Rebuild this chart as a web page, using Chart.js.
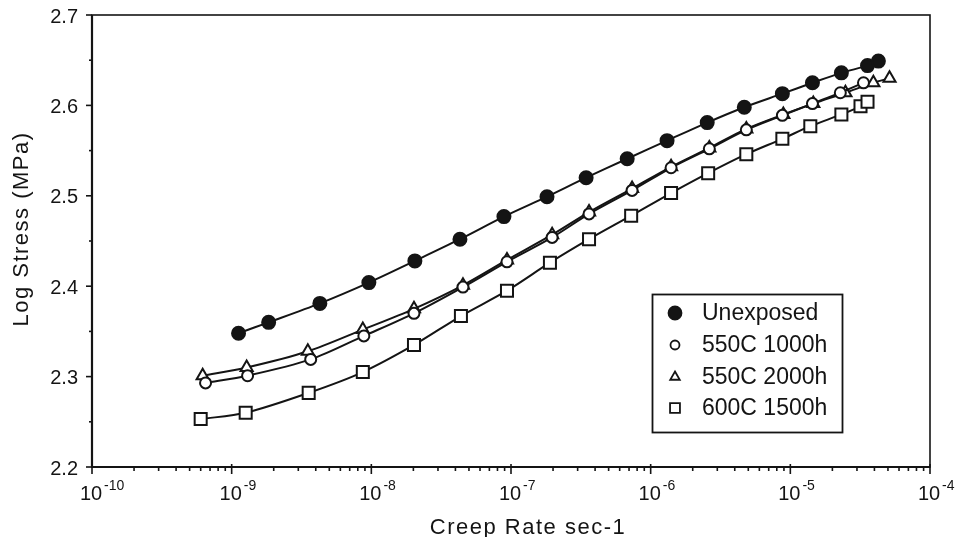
<!DOCTYPE html>
<html>
<head>
<meta charset="utf-8">
<script src="https://cdn.jsdelivr.net/npm/chart.js@4.4.0/dist/chart.umd.min.js"></script>
<style>
    html, body { margin: 0; padding: 0; background: #fff; }
    #wrap { width: 957px; height: 537px; }
</style>
</head>
<body>
<div id="wrap"><canvas id="creepChart"></canvas></div>
<script>
// series names (legend order)
const seriesNames = ['Unexposed', '550C 1000h', '550C 2000h', '600C 1500h'];

// creep rate (1/s) and log stress (MPa)
const unexposedRate = [1.12e-9, 1.84e-9, 4.28e-9, 9.6e-9, 2.05e-8, 4.31e-8, 8.9e-8, 1.81e-7, 3.45e-7, 6.79e-7, 1.31e-6, 2.54e-6, 4.68e-6, 8.77e-6, 1.44e-5, 2.32e-5, 3.57e-5, 4.27e-5];
const unexposedStress = [2.348, 2.360, 2.381, 2.404, 2.428, 2.452, 2.477, 2.499, 2.520, 2.541, 2.561, 2.581, 2.598, 2.613, 2.625, 2.636, 2.644, 2.649];

const c550h1000Rate = [6.5e-10, 1.30e-9, 3.68e-9, 8.84e-9, 2.02e-8, 4.53e-8, 9.36e-8, 1.97e-7, 3.62e-7, 7.36e-7, 1.40e-6, 2.63e-6, 4.84e-6, 8.77e-6, 1.44e-5, 2.28e-5, 3.34e-5];
const c550h1000Stress = [2.293, 2.301, 2.319, 2.345, 2.370, 2.399, 2.427, 2.454, 2.480, 2.506, 2.531, 2.552, 2.573, 2.589, 2.602, 2.614, 2.625];

const c550h2000Rate = [6.2e-10, 1.28e-9, 3.51e-9, 8.69e-9, 2.02e-8, 4.53e-8, 9.36e-8, 1.97e-7, 3.62e-7, 7.36e-7, 1.40e-6, 2.63e-6, 4.84e-6, 8.91e-6, 1.46e-5, 2.48e-5, 3.93e-5, 5.13e-5];
const c550h2000Stress = [2.301, 2.310, 2.328, 2.352, 2.375, 2.401, 2.429, 2.457, 2.482, 2.508, 2.532, 2.553, 2.574, 2.590, 2.602, 2.614, 2.625, 2.630];

const c600h1500Rate = [6.0e-10, 1.26e-9, 3.56e-9, 8.69e-9, 2.02e-8, 4.38e-8, 9.36e-8, 1.90e-7, 3.62e-7, 7.25e-7, 1.40e-6, 2.58e-6, 4.84e-6, 8.77e-6, 1.39e-5, 2.32e-5, 3.18e-5, 3.57e-5];
const c600h1500Stress = [2.253, 2.260, 2.282, 2.305, 2.335, 2.367, 2.395, 2.426, 2.452, 2.478, 2.503, 2.525, 2.546, 2.563, 2.577, 2.590, 2.599, 2.604];

// axis ticks
const xTickExponents = [-10, -9, -8, -7, -6, -5, -4];
const yTickValues = [2.2, 2.3, 2.4, 2.5, 2.6, 2.7];
const yMinorValues = [2.25, 2.35, 2.45, 2.55, 2.65];

const xTitle = 'Creep Rate sec-1';
const yTitle = 'Log Stress (MPa)';

const INK = '#141414';
const FONT = '"Liberation Sans", Arial, sans-serif';

function zip(xs, ys) {
    return xs.map(function (x, i) { return { x: x, y: ys[i] }; });
}

// ==========================================
// custom drawing: frame, ticks, labels, legend
// ==========================================
const paperPlugin = {
    id: 'paper',
    afterDraw: function (chart) {
        const ctx = chart.ctx;
        const area = chart.chartArea;
        const xs = chart.scales.x;
        const ys = chart.scales.y;
        ctx.save();
        ctx.strokeStyle = INK;
        ctx.fillStyle = INK;

        // frame
        ctx.lineWidth = 1.6;
        ctx.strokeRect(area.left, area.top, area.right - area.left, area.bottom - area.top);
        ctx.lineWidth = 2.2;
        ctx.beginPath();
        ctx.moveTo(area.left, area.top);
        ctx.lineTo(area.left, area.bottom);
        ctx.moveTo(area.left, area.bottom);
        ctx.lineTo(area.right, area.bottom);
        ctx.stroke();

        // x ticks
        ctx.lineWidth = 1.6;
        xTickExponents.forEach(function (e, i) {
            const px = xs.getPixelForValue(Math.pow(10, e));
            ctx.beginPath();
            ctx.moveTo(px, area.bottom - 3);
            ctx.lineTo(px, area.bottom + 7);
            ctx.stroke();
            if (i < xTickExponents.length - 1) {
                for (let m = 2; m <= 9; m++) {
                    const mx = xs.getPixelForValue(m * Math.pow(10, e));
                    ctx.beginPath();
                    ctx.moveTo(mx, area.bottom);
                    ctx.lineTo(mx, area.bottom + 4);
                    ctx.stroke();
                }
            }
            // label 10^e
            ctx.font = '20px ' + FONT;
            ctx.textAlign = 'center';
            ctx.textBaseline = 'alphabetic';
            const base = '10';
            const w = ctx.measureText(base).width;
            ctx.fillText(base, px - 1, 500);
            ctx.font = '14px ' + FONT;
            ctx.textAlign = 'left';
            ctx.fillText(String(e), px - 1 + w / 2 + 2, 490);
        });

        // y ticks
        ctx.font = '20px ' + FONT;
        ctx.textAlign = 'right';
        ctx.textBaseline = 'middle';
        yTickValues.forEach(function (v) {
            const py = ys.getPixelForValue(v);
            ctx.beginPath();
            ctx.moveTo(area.left - 6, py);
            ctx.lineTo(area.left, py);
            ctx.stroke();
            ctx.fillText(v.toFixed(1), 78, py + 2);
        });
        yMinorValues.forEach(function (v) {
            const py = ys.getPixelForValue(v);
            ctx.beginPath();
            ctx.moveTo(area.left - 3, py);
            ctx.lineTo(area.left, py);
            ctx.stroke();
        });

        // axis titles (wider tracking like the original typewriter-ish font)
        ctx.font = '22px ' + FONT;
        ctx.letterSpacing = '1.5px';
        ctx.textAlign = 'center';
        ctx.textBaseline = 'alphabetic';
        ctx.fillText(xTitle, 528, 534);
        ctx.save();
        ctx.translate(22, 229);
        ctx.rotate(-Math.PI / 2);
        ctx.textBaseline = 'middle';
        ctx.fillText(yTitle, 0, 0);
        ctx.restore();
        ctx.letterSpacing = '0px';

        // legend box
        ctx.lineWidth = 1.8;
        ctx.strokeRect(652.5, 294.5, 190, 138);
        const rowY = [313, 345, 377, 408];
        const legendMarks = [
            { pointStyle: 'circle', radius: 6.5, fill: INK },
            { pointStyle: 'circle', radius: 4.5, fill: '#fff' },
            { pointStyle: 'triangle', radius: 5.5, fill: '#fff' },
            { pointStyle: 'rect', radius: 7, fill: '#fff' }
        ];
        ctx.font = '23px ' + FONT;
        ctx.textAlign = 'left';
        ctx.textBaseline = 'middle';
        seriesNames.forEach(function (name, i) {
            const mk = legendMarks[i];
            ctx.fillStyle = mk.fill;
            ctx.strokeStyle = INK;
            ctx.lineWidth = 1.8;
            Chart.helpers.drawPoint(ctx, { pointStyle: mk.pointStyle, radius: mk.radius, rotation: 0, borderWidth: 1.8 }, 675, rowY[i]);
            ctx.fillStyle = INK;
            ctx.fillText(name, 702, rowY[i] + 1);
        });

        ctx.restore();
    }
};

function lineSet(label, points, style, radius, fill) {
    return {
        label: label,
        data: points,
        borderColor: INK,
        borderWidth: 2,
        tension: 0.3,
        pointStyle: style,
        pointRadius: radius,
        pointBackgroundColor: fill,
        pointBorderColor: INK,
        pointBorderWidth: 2
    };
}

const ctx = document.getElementById('creepChart').getContext('2d');
new Chart(ctx, {
    type: 'line',
    data: {
        datasets: [
            lineSet(seriesNames[0], zip(unexposedRate, unexposedStress), 'circle', 6.5, INK),
            lineSet(seriesNames[1], zip(c550h1000Rate, c550h1000Stress), 'circle', 5.5, '#fff'),
            lineSet(seriesNames[2], zip(c550h2000Rate, c550h2000Stress), 'triangle', 7, '#fff'),
            lineSet(seriesNames[3], zip(c600h1500Rate, c600h1500Stress), 'rect', 8.5, '#fff')
        ]
    },
    options: {
        responsive: true,
        maintainAspectRatio: false,
        animation: false,
        layout: { padding: { top: 15, right: 27, left: 0, bottom: 0 } },
        plugins: {
            legend: { display: false },
            tooltip: { enabled: false }
        },
        scales: {
            x: {
                type: 'logarithmic',
                min: 1e-10,
                max: 1e-4,
                grid: { display: false },
                border: { display: false },
                ticks: { display: false },
                afterFit: function (scale) { scale.height = 70; }
            },
            y: {
                type: 'linear',
                min: 2.2,
                max: 2.7,
                grid: { display: false },
                border: { display: false },
                ticks: { display: false },
                afterFit: function (scale) { scale.width = 92; }
            }
        }
    },
    plugins: [paperPlugin]
});
</script>
</body>
</html>
